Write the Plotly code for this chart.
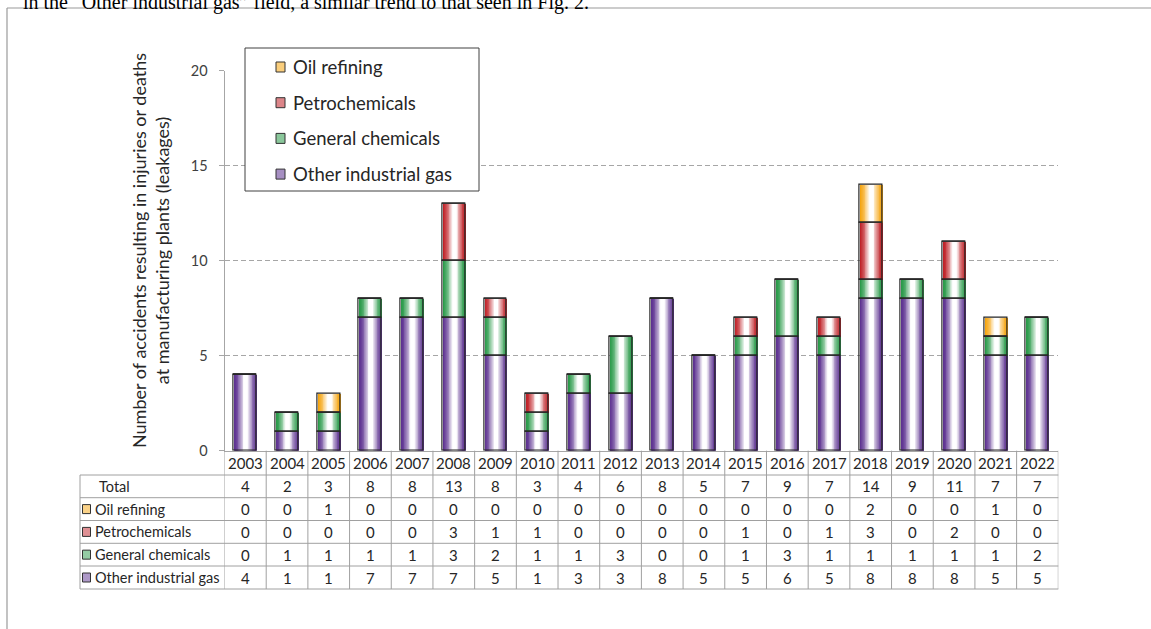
import plotly.graph_objects as go

W_PX, H_PX = 1151, 629

years = [str(y) for y in range(2003, 2023)]
oil_refining = [0, 0, 1, 0, 0, 0, 0, 0, 0, 0, 0, 0, 0, 0, 0, 2, 0, 0, 1, 0]
petrochemicals = [0, 0, 0, 0, 0, 3, 1, 1, 0, 0, 0, 0, 1, 0, 1, 3, 0, 2, 0, 0]
general_chemicals = [0, 1, 1, 1, 1, 3, 2, 1, 1, 3, 0, 0, 1, 3, 1, 1, 1, 1, 1, 2]
other_industrial_gas = [4, 1, 1, 7, 7, 7, 5, 1, 3, 3, 8, 5, 5, 6, 5, 8, 8, 8, 5, 5]
y_ticks = [0, 5, 10, 15, 20]

# bottom -> top stacking order
series = [
    ("Other industrial gas", other_industrial_gas, "#5e3391"),
    ("General chemicals", general_chemicals, "#2a9a4a"),
    ("Petrochemicals", petrochemicals, "#bf2228"),
    ("Oil refining", oil_refining, "#f5a511"),
]
totals = [sum(v) for v in zip(*[s[1] for s in series])]

FONT = "Lato"
TXT = "#262626"
GRID = "#a6a6a6"


def px(x):
    return x / W_PX


def py(y):
    return 1 - y / H_PX


def mix(c, t):
    r, g, b = int(c[1:3], 16), int(c[3:5], 16), int(c[5:7], 16)
    r, g, b = [round(v + (255 - v) * t) for v in (r, g, b)]
    return f"rgb({r},{g},{b})"


fig = go.Figure()

BAR_W = 0.55
N_LAYERS = 14
base = [0] * len(years)
bases = []
for name, vals, col in series:
    bases.append(list(base))
    for k in range(N_LAYERS):
        f = 1 - k / N_LAYERS
        t = min(1.0, (1 - f) / 0.8) ** 1.5
        fig.add_trace(go.Bar(
            x=years, y=vals, base=base, width=BAR_W * f,
            marker=dict(color=mix(col, t), line=dict(width=0)),
            showlegend=False, hoverinfo="skip",
        ))
    base = [b + v for b, v in zip(base, vals)]

for (name, vals, col), b in zip(series, bases):
    fig.add_trace(go.Bar(
        x=years, y=vals, base=b, width=BAR_W, name=name,
        marker=dict(color="rgba(0,0,0,0)", line=dict(width=1.2, color="#262626")),
        showlegend=False,
    ))

shapes = []
annotations = []

# page frame
shapes.append(dict(type="line", xref="paper", yref="paper", x0=px(7), x1=px(1160),
                   y0=py(8), y1=py(8), line=dict(color="#9a9a9a", width=1.2)))
shapes.append(dict(type="line", xref="paper", yref="paper", x0=px(7), x1=px(7),
                   y0=py(8), y1=py(640), line=dict(color="#9a9a9a", width=1.2)))

annotations.append(dict(
    text="in the \u201cOther industrial gas\u201d field, a similar trend to that seen in Fig. 2.",
    xref="paper", yref="paper", x=px(21), y=py(16), xanchor="left", yanchor="bottom",
    showarrow=False, font=dict(family="Liberation Serif", size=20, color="#000000"),
))

# y-axis title
annotations.append(dict(
    text="Number of accidents resulting in injuries or deaths<br>at manufacturing plants (leakages)",
    xref="paper", yref="paper", x=px(150), y=py(251), textangle=-90,
    xanchor="center", yanchor="middle",
    showarrow=False, font=dict(family=FONT, size=18, color=TXT),
))

# legend box
shapes.append(dict(type="rect", xref="paper", yref="paper", x0=px(245), x1=px(479),
                   y0=py(48), y1=py(191), fillcolor="white",
                   line=dict(color="#404040", width=1)))
for i, (name, vals, col) in enumerate(reversed(series)):
    cy = 67 + i * 35.7
    shapes.append(dict(type="rect", xref="paper", yref="paper", x0=px(276), x1=px(285),
                       y0=py(cy - 5), y1=py(cy + 5), fillcolor=mix(col, 0.45),
                       line=dict(color="#333333", width=1)))
    annotations.append(dict(text=name, xref="paper", yref="paper", x=px(291), y=py(cy),
                            xanchor="left", yanchor="middle", showarrow=False,
                            font=dict(family=FONT, size=18.5, color=TXT)))

# data table
LINE = dict(color="#a0a0a0", width=1)
row_edges = [475, 497.7, 520.5, 543.3, 566, 589]
ymin_row, ymax_row = 450.7, 475
n = len(years)
# year header row
for i in range(n + 1):
    shapes.append(dict(type="line", xref="x", yref="paper", x0=i - 0.5, x1=i - 0.5,
                       y0=py(ymin_row), y1=py(ymax_row), line=LINE))
for i, yr in enumerate(years):
    annotations.append(dict(text=yr, xref="x", yref="paper", x=i,
                            y=py((ymin_row + ymax_row) / 2 + 0.5),
                            xanchor="center", yanchor="middle", showarrow=False,
                            font=dict(family=FONT, size=15, color=TXT)))
# body
for ye in row_edges:
    shapes.append(dict(type="line", xref="paper", yref="paper", x0=px(80), x1=px(1058.3),
                       y0=py(ye), y1=py(ye), line=LINE))
shapes.append(dict(type="line", xref="paper", yref="paper", x0=px(80), x1=px(80),
                   y0=py(row_edges[0]), y1=py(row_edges[-1]), line=LINE))
for i in range(n + 1):
    shapes.append(dict(type="line", xref="x", yref="paper", x0=i - 0.5, x1=i - 0.5,
                       y0=py(row_edges[0]), y1=py(row_edges[-1]), line=LINE))

rows = [("Total", totals, None)] + [(nm, v, c) for nm, v, c in reversed(series)]
for r, (label, vals, col) in enumerate(rows):
    cy = (row_edges[r] + row_edges[r + 1]) / 2
    if col is None:
        annotations.append(dict(text=label, xref="paper", yref="paper", x=px(97), y=py(cy),
                                xanchor="left", yanchor="middle", showarrow=False,
                                font=dict(family=FONT, size=14.5, color=TXT)))
    else:
        shapes.append(dict(type="rect", xref="paper", yref="paper", x0=px(82.5), x1=px(90.5),
                           y0=py(cy - 4.5), y1=py(cy + 4.5), fillcolor=mix(col, 0.5),
                           line=dict(color="#333333", width=1)))
        annotations.append(dict(text=label, xref="paper", yref="paper", x=px(92.5), y=py(cy),
                                xanchor="left", yanchor="middle", showarrow=False,
                                font=dict(family=FONT, size=14.5, color=TXT)))
    for i, v in enumerate(vals):
        annotations.append(dict(text=str(v), xref="x", yref="paper", x=i, y=py(cy),
                                xanchor="center", yanchor="middle", showarrow=False,
                                font=dict(family=FONT, size=15, color=TXT)))

fig.update_layout(
    width=W_PX, height=H_PX, autosize=False,
    margin=dict(l=0, r=0, t=0, b=0, pad=0),
    paper_bgcolor="white", plot_bgcolor="white",
    barmode="overlay", bargap=0,
    showlegend=False,
    shapes=shapes, annotations=annotations,
    xaxis=dict(
        domain=[px(224.5), px(1058.3)], type="category", range=[-0.5, n - 0.5],
        showticklabels=False, ticks="", showgrid=False, zeroline=False, automargin=False,
        showline=True, linecolor=GRID, linewidth=1,
    ),
    yaxis=dict(
        domain=[py(450.7), py(70.7)], range=[0, 20], tickvals=y_ticks, automargin=False,
        showgrid=True, gridcolor=GRID, griddash="5px,3px", gridwidth=1,
        zeroline=False, showline=True, linecolor=GRID, linewidth=1,
        ticks="outside", ticklen=5, tickcolor=GRID, ticklabelstandoff=8,
        tickfont=dict(family=FONT, size=14.5, color="#404040"),
    ),
)

fig.write_html("out.html", config={"displayModeBar": False},
               post_script="document.body.style.margin='0';")
